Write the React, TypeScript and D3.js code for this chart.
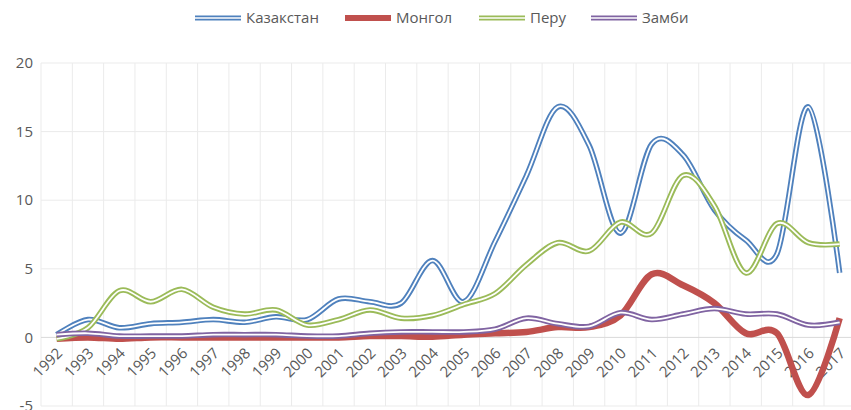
import React, { useEffect, useRef } from 'react';
import * as d3 from 'd3';

const years = d3.range(1992, 2018).map(String);

const kazakhstan = [0.2, 1.3, 0.7, 1.0, 1.1, 1.3, 1.1, 1.5, 1.3, 2.8, 2.6, 2.5, 5.6, 2.6, 7.0, 11.8, 16.8, 14.0, 7.6, 14.1, 13.3, 9.3, 7.1, 6.1, 16.8, 4.7];
const mongol = [-0.1, 0.0, -0.1, 0.0, 0.0, 0.0, 0.0, 0.0, 0.0, 0.0, 0.1, 0.1, 0.05, 0.2, 0.3, 0.4, 0.75, 0.75, 1.6, 4.6, 3.8, 2.5, 0.3, 0.3, -4.2, 1.4];
const peru = [-0.1, 0.7, 3.4, 2.6, 3.5, 2.2, 1.7, 2.0, 0.9, 1.3, 2.0, 1.4, 1.6, 2.4, 3.2, 5.3, 6.9, 6.3, 8.4, 7.6, 11.8, 9.6, 4.7, 8.3, 6.9, 6.8];
const zambia = [0.2, 0.3, 0.1, 0.1, 0.1, 0.2, 0.2, 0.2, 0.1, 0.1, 0.3, 0.4, 0.4, 0.4, 0.6, 1.4, 1.0, 0.8, 1.8, 1.3, 1.7, 2.1, 1.7, 1.7, 0.9, 1.1];

const yTicks = [-5, 0, 5, 10, 15, 20];

const seriesList = [
  { name: 'Казакстан', values: kazakhstan, color: '#4F81BD', double: true },
  { name: 'Монгол', values: mongol, color: '#C0504D', double: false },
  { name: 'Перу', values: peru, color: '#9BBB59', double: true },
  { name: 'Замби', values: zambia, color: '#8064A2', double: true },
];

const legendX = [195, 345, 479, 591];

const App = () => {
  const svgRef = useRef<SVGSVGElement>(null);
  const width = 851;
  const height = 410;

  useEffect(() => {
    const svg = d3.select(svgRef.current);
    svg.selectAll('*').remove();

    const font = '"Open Sans", "Noto Sans", sans-serif';
    const textColor = '#595959';

    const x = d3.scaleBand().domain(years).range([41, 41 + 26 * 31.32]).padding(0);
    const y = d3.scaleLinear().domain([-5, 20]).range([406, 63]);
    const cx = (yr: string) => (x(yr) as number) + x.bandwidth() / 2;

    // gridlines
    const grid = svg.append('g');
    grid.selectAll('.vg')
      .data(years.concat(['end']))
      .enter().append('line')
      .attr('x1', (d, i) => x.range()[0] + i * x.bandwidth())
      .attr('x2', (d, i) => x.range()[0] + i * x.bandwidth())
      .attr('y1', y(20))
      .attr('y2', y(-5))
      .attr('stroke', '#EBEBEB')
      .attr('stroke-width', 1);

    grid.selectAll('.hg')
      .data(yTicks)
      .enter().append('line')
      .attr('x1', x.range()[0])
      .attr('x2', x.range()[1])
      .attr('y1', d => y(d))
      .attr('y2', d => y(d))
      .attr('stroke', d => (d === 0 ? '#D9D9D9' : '#EBEBEB'))
      .attr('stroke-width', 1);

    // y labels
    svg.append('g').selectAll('text')
      .data(yTicks)
      .enter().append('text')
      .attr('x', 33)
      .attr('y', d => y(d))
      .attr('dy', '0.35em')
      .attr('text-anchor', 'end')
      .attr('font-family', font)
      .attr('font-size', 15)
      .attr('fill', textColor)
      .text(d => d);

    // x labels, rotated
    svg.append('g').selectAll('text')
      .data(years)
      .enter().append('text')
      .attr('transform', d => `translate(${cx(d) + 3},${y(0) + 13}) rotate(-45)`)
      .attr('text-anchor', 'end')
      .attr('dy', '0.35em')
      .attr('font-family', font)
      .attr('font-size', 15)
      .attr('fill', textColor)
      .text(d => d);

    const line = d3.line<number>()
      .x((d, i) => cx(years[i]))
      .y(d => y(d))
      .curve(d3.curveCardinal.tension(0));

    // series
    seriesList.forEach(s => {
      const g = svg.append('g');
      g.append('path')
        .datum(s.values)
        .attr('fill', 'none')
        .attr('stroke', s.color)
        .attr('stroke-width', s.double ? 5.5 : 6.5)
        .attr('stroke-linejoin', 'round')
        .attr('d', line);
      if (s.double) {
        g.append('path')
          .datum(s.values)
          .attr('fill', 'none')
          .attr('stroke', '#fff')
          .attr('stroke-width', 1.8)
          .attr('d', line);
      }
    });

    // legend
    const legend = svg.append('g');
    seriesList.forEach((s, i) => {
      const lx = legendX[i];
      legend.append('line')
        .attr('x1', lx).attr('x2', lx + 46)
        .attr('y1', 18).attr('y2', 18)
        .attr('stroke', s.color)
        .attr('stroke-width', s.double ? 5 : 6);
      if (s.double) {
        legend.append('line')
          .attr('x1', lx).attr('x2', lx + 46)
          .attr('y1', 18).attr('y2', 18)
          .attr('stroke', '#fff')
          .attr('stroke-width', 1.6);
      }
      legend.append('text')
        .attr('x', lx + 51)
        .attr('y', 18)
        .attr('dy', '0.35em')
        .attr('font-family', font)
        .attr('font-size', 15)
        .attr('fill', textColor)
        .text(s.name);
    });
  }, []);

  return (
    <div style={{ position: 'absolute', left: 0, top: 0 }}>
      <svg ref={svgRef} width={width} height={height} style={{ display: 'block', background: '#fff' }}></svg>
    </div>
  );
};

export default App;
